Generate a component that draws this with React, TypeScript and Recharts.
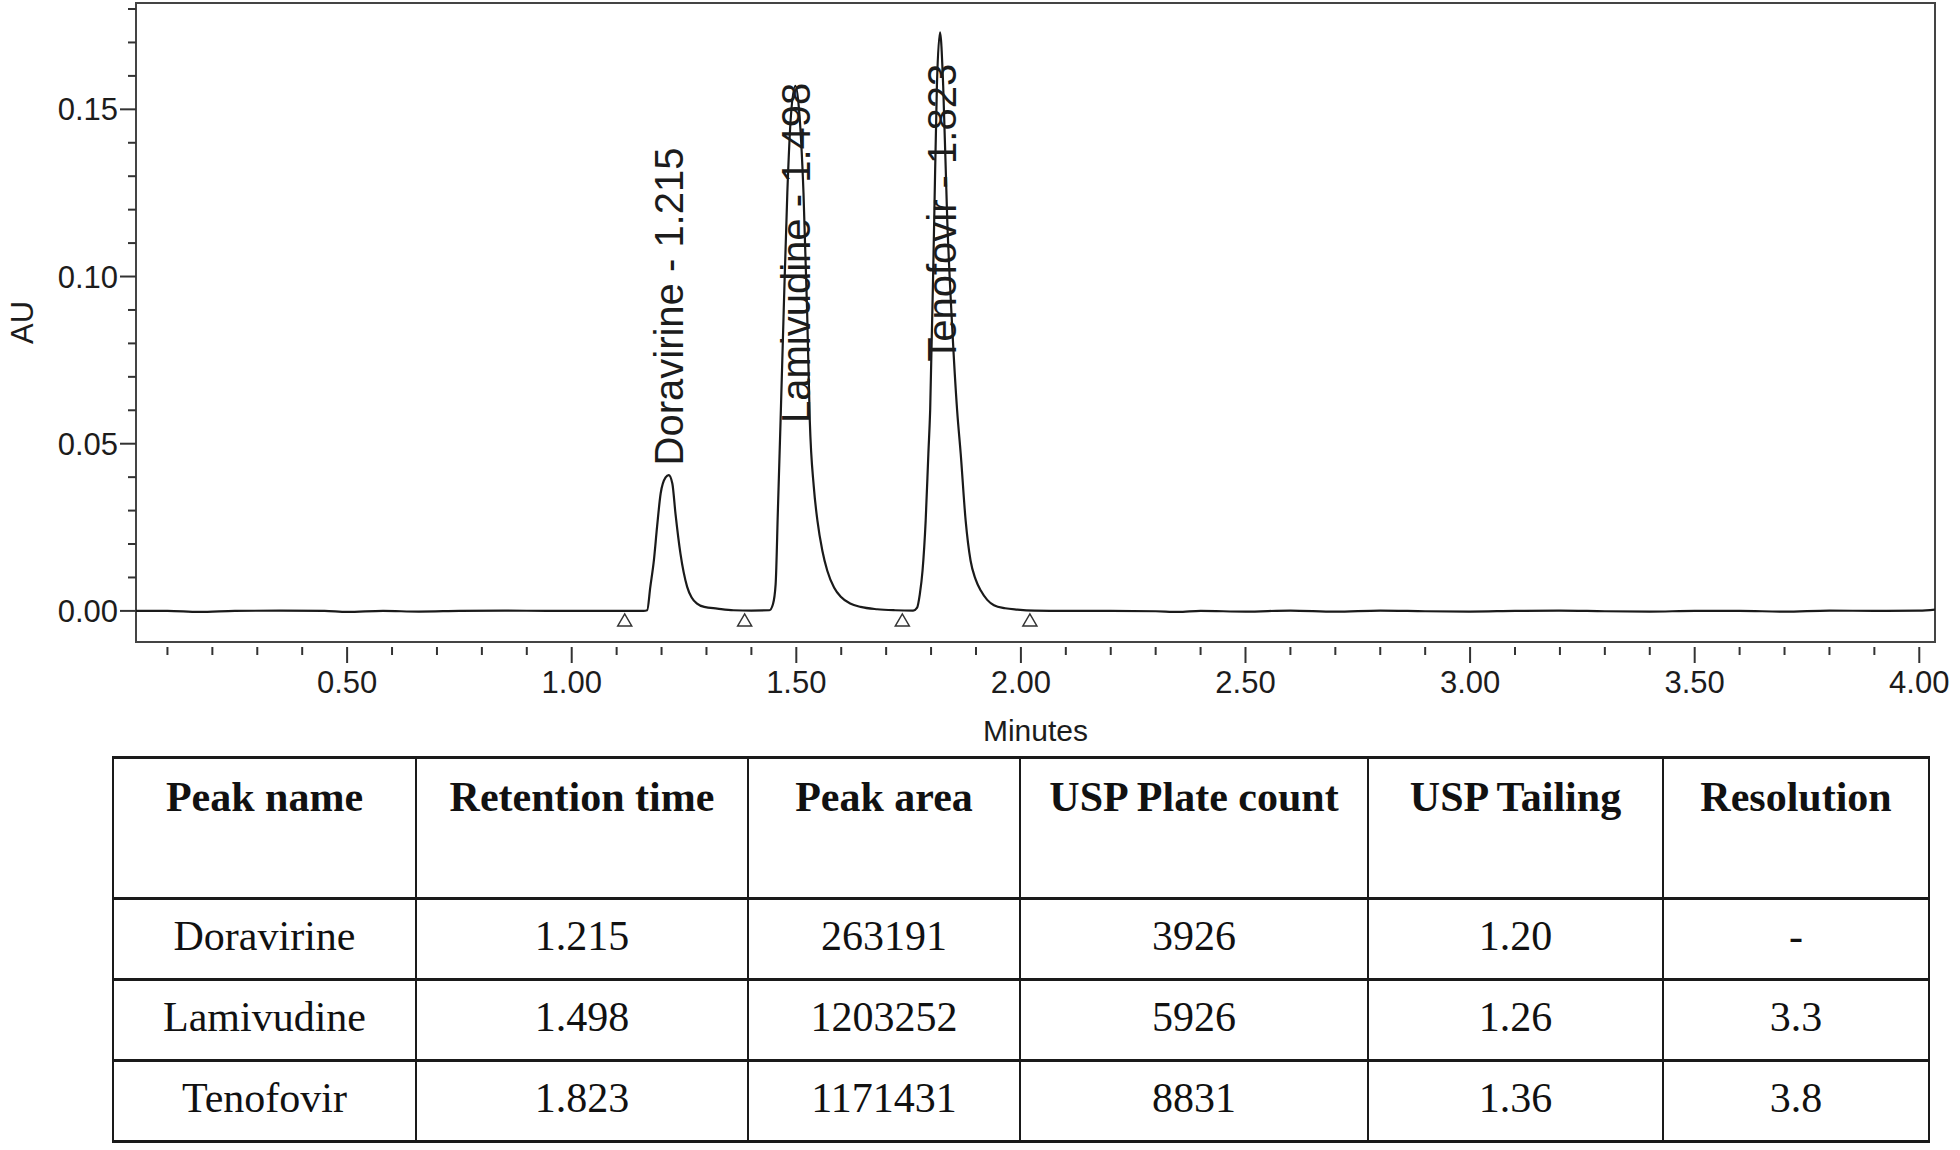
import React from "react";
import { ComposedChart, Line, Scatter, XAxis, YAxis, ReferenceArea } from "recharts";

// chromatogram trace (minutes / AU)
const TIME = [
  0.03, 0.1, 0.17, 0.25, 0.35, 0.45, 0.5, 0.58, 0.66, 0.75, 0.85, 0.95, 1.05, 1.12, 1.16,
  1.168, 1.175, 1.183, 1.19, 1.198, 1.209, 1.216, 1.224, 1.231, 1.242, 1.257, 1.267, 1.279, 1.295, 1.324, 1.36, 1.4, 1.44,
  1.448, 1.454, 1.459, 1.465, 1.472, 1.48, 1.488, 1.498, 1.506, 1.516, 1.524, 1.53, 1.539, 1.547, 1.558, 1.569, 1.584, 1.599, 1.62, 1.643, 1.68, 1.72, 1.76,
  1.769, 1.775, 1.781, 1.788, 1.794, 1.798, 1.807, 1.813, 1.82, 1.827, 1.836, 1.847, 1.858, 1.866, 1.877, 1.888, 1.899, 1.911, 1.925, 1.94, 1.965, 1.992, 2.03,
  2.1, 2.2, 2.3, 2.35, 2.4, 2.5, 2.6, 2.7, 2.8, 2.9, 3.0, 3.1, 3.2, 3.3, 3.4, 3.5, 3.6, 3.7, 3.8, 3.9, 4.0, 4.035,
];
const AU = [
  0, 0, -0.0003, 0, 0.0001, 0, -0.0003, 0, -0.0002, 0, 0.0001, 0, 0, 0, 0,
  0.0002, 0.0072, 0.0152, 0.0251, 0.0351, 0.0399, 0.0406, 0.0381, 0.0291, 0.0172, 0.0072, 0.004, 0.0022, 0.0012, 0.0007, 0.0002, 0.0001, 0.0002,
  0.002, 0.008, 0.03, 0.057, 0.09, 0.125, 0.148, 0.157, 0.15, 0.125, 0.09, 0.057, 0.037, 0.027, 0.018, 0.012, 0.007, 0.0042, 0.0022, 0.0012, 0.0005, 0.0002, 0.0001,
  0.001, 0.005, 0.012, 0.027, 0.047, 0.06, 0.117, 0.157, 0.173, 0.157, 0.117, 0.085, 0.06, 0.047, 0.027, 0.015, 0.0095, 0.006, 0.0033, 0.0017, 0.0008, 0.0004, 0.0001,
  0, 0, -0.0001, -0.0003, 0, -0.0002, 0.0001, -0.0002, 0.0001, -0.0001, -0.0002, 0, 0.0001, -0.0001, -0.0002, 0, 0, -0.0002, 0.0001, 0, 0.0001, 0.0004,
];

const PEAK_NAMES = ["Doravirine", "Lamivudine", "Tenofovir"];
const RETENTION_TIMES = ["1.215", "1.498", "1.823"];
const PEAK_AREAS = ["263191", "1203252", "1171431"];
const PLATE_COUNTS = ["3926", "5926", "8831"];
const TAILINGS = ["1.20", "1.26", "1.36"];
const RESOLUTIONS = ["-", "3.3", "3.8"];
const TABLE_HEADERS = ["Peak name", "Retention time", "Peak area", "USP Plate count", "USP Tailing", "Resolution"];

// integration start/end marks
const PEAK_BOUNDS = [1.118, 1.385, 1.736, 2.02];

const X_TICKS = [
  0.1, 0.2, 0.3, 0.4, 0.5, 0.6, 0.7, 0.8, 0.9, 1.0, 1.1, 1.2, 1.3, 1.4, 1.5, 1.6, 1.7, 1.8, 1.9, 2.0,
  2.1, 2.2, 2.3, 2.4, 2.5, 2.6, 2.7, 2.8, 2.9, 3.0, 3.1, 3.2, 3.3, 3.4, 3.5, 3.6, 3.7, 3.8, 3.9, 4.0,
];
const Y_TICKS = [0, 0.01, 0.02, 0.03, 0.04, 0.05, 0.06, 0.07, 0.08, 0.09, 0.1, 0.11, 0.12, 0.13, 0.14, 0.15, 0.16, 0.17, 0.18];

const X_MIN = 0.03;
const X_MAX = 4.035;
const Y_MIN = -0.0093;
const Y_MAX = 0.1818;

// where each peak label starts (AU), as placed in the picture
const LABEL_AU = [0.0435, 0.0562, 0.0745];

const SANS = "'Liberation Sans', Arial, sans-serif";
const SERIF = "'Liberation Serif', 'Times New Roman', serif";
const INK = "#1c1c1c";

const trace = TIME.map((t, i) => ({ t, v: AU[i] }));
const marks = PEAK_BOUNDS.map((t) => ({ t, v: 0 }));
const labels = PEAK_NAMES.map((name, i) => ({
  t: Number(RETENTION_TIMES[i]),
  v: LABEL_AU[i],
  text: `${name} - ${RETENTION_TIMES[i]}`,
}));
const rows = PEAK_NAMES.map((name, i) => [
  name, RETENTION_TIMES[i], PEAK_AREAS[i], PLATE_COUNTS[i], TAILINGS[i], RESOLUTIONS[i],
]);

const XTick = (props: any) => {
  const { x, y, payload } = props;
  const v = payload.value;
  const major = Math.abs(v * 2 - Math.round(v * 2)) < 1e-6;
  return (
    <g>
      <line x1={x} x2={x} y1={y + 5} y2={y + (major ? 21 : 13)} stroke="#333" strokeWidth={2} />
      {major && (
        <text x={x} y={y + 51} textAnchor="middle" fontSize={31} fill={INK} fontFamily={SANS}>
          {v.toFixed(2)}
        </text>
      )}
    </g>
  );
};

const YTick = (props: any) => {
  const { x, y, payload } = props;
  const v = payload.value;
  const major = Math.round(v * 100) % 5 === 0;
  return (
    <g>
      <line x1={x - (major ? 16 : 8)} x2={x} y1={y} y2={y} stroke="#333" strokeWidth={2} />
      {major && (
        <text x={x - 18} y={y + 11} textAnchor="end" fontSize={31} fill={INK} fontFamily={SANS}>
          {v.toFixed(2)}
        </text>
      )}
    </g>
  );
};

const Triangle = (props: any) => {
  const { cx, cy } = props;
  return (
    <path
      d={`M${cx - 7},${cy + 15} L${cx + 7},${cy + 15} L${cx},${cy + 3} Z`}
      fill="#fff"
      stroke="#333"
      strokeWidth={1.5}
    />
  );
};

const PeakLabel = (props: any) => {
  const { cx, cy, payload } = props;
  return (
    <text
      x={cx}
      y={cy}
      dy="0.36em"
      transform={`rotate(-90 ${cx} ${cy})`}
      textAnchor="start"
      fontSize={40}
      fill={INK}
      fontFamily={SANS}
    >
      {payload.text}
    </text>
  );
};

const Chromatogram = () => (
  <ComposedChart width={1960} height={760} margin={{ top: 3, right: 25, bottom: 10, left: 0 }}>
    <XAxis
      dataKey="t"
      type="number"
      domain={[X_MIN, X_MAX]}
      allowDataOverflow
      ticks={X_TICKS}
      interval={0}
      tickSize={0}
      tickMargin={0}
      tickLine={false}
      axisLine={false}
      tick={(p: any) => <XTick {...p} />}
      height={108}
      label={{ value: "Minutes", position: "insideBottom", offset: 9, fontSize: 30, fill: INK, fontFamily: SANS }}
    />
    <YAxis
      type="number"
      domain={[Y_MIN, Y_MAX]}
      allowDataOverflow
      ticks={Y_TICKS}
      interval={0}
      tickSize={0}
      tickMargin={0}
      tickLine={false}
      axisLine={false}
      tick={(p: any) => <YTick {...p} />}
      width={136}
      label={{
        value: "AU",
        angle: -90,
        position: "insideLeft",
        offset: 22,
        fontSize: 31,
        fill: INK,
        fontFamily: SANS,
        style: { textAnchor: "middle" },
      }}
    />
    <ReferenceArea
      x1={X_MIN}
      x2={X_MAX}
      y1={Y_MIN}
      y2={Y_MAX}
      fill="none"
      stroke="#444"
      strokeWidth={2}
      ifOverflow="visible"
    />
    <Line
      data={trace}
      dataKey="v"
      type="monotone"
      stroke="#1a1a1a"
      strokeWidth={2.2}
      dot={false}
      activeDot={false}
      isAnimationActive={false}
    />
    <Scatter data={marks} dataKey="v" shape={(p: any) => <Triangle {...p} />} isAnimationActive={false} />
    <Scatter data={labels} dataKey="v" shape={(p: any) => <PeakLabel {...p} />} isAnimationActive={false} />
  </ComposedChart>
);

const COL_WIDTHS = [303, 332, 272, 348, 295, 266];

const cellBase: React.CSSProperties = {
  borderTop: "3px solid #1a1a1a",
  borderBottom: "3px solid #1a1a1a",
  borderLeft: "2px solid #1a1a1a",
  borderRight: "2px solid #1a1a1a",
  textAlign: "center",
  padding: 0,
  whiteSpace: "nowrap",
  color: "#111",
};

const ResultsTable = () => (
  <table
    style={{
      position: "absolute",
      left: 112,
      top: 756,
      width: 1816,
      borderCollapse: "collapse",
      tableLayout: "fixed",
      fontFamily: SERIF,
      fontSize: 42,
    }}
  >
    <colgroup>
      {COL_WIDTHS.map((w, i) => (
        <col key={i} style={{ width: w }} />
      ))}
    </colgroup>
    <thead>
      <tr style={{ height: 141 }}>
        {TABLE_HEADERS.map((h) => (
          <th key={h} style={{ ...cellBase, verticalAlign: "top", paddingTop: 14, fontWeight: 700 }}>
            {h}
          </th>
        ))}
      </tr>
    </thead>
    <tbody>
      {rows.map((r, i) => (
        <tr key={i} style={{ height: 81 }}>
          {r.map((c, j) => (
            <td key={j} style={{ ...cellBase, verticalAlign: "middle", paddingBottom: 7 }}>
              {c}
            </td>
          ))}
        </tr>
      ))}
    </tbody>
  </table>
);

export default function App() {
  return (
    <div style={{ position: "absolute", left: 0, top: 0, width: 1960, height: 1150, background: "#fff", overflow: "hidden" }}>
      <Chromatogram />
      <ResultsTable />
    </div>
  );
}
